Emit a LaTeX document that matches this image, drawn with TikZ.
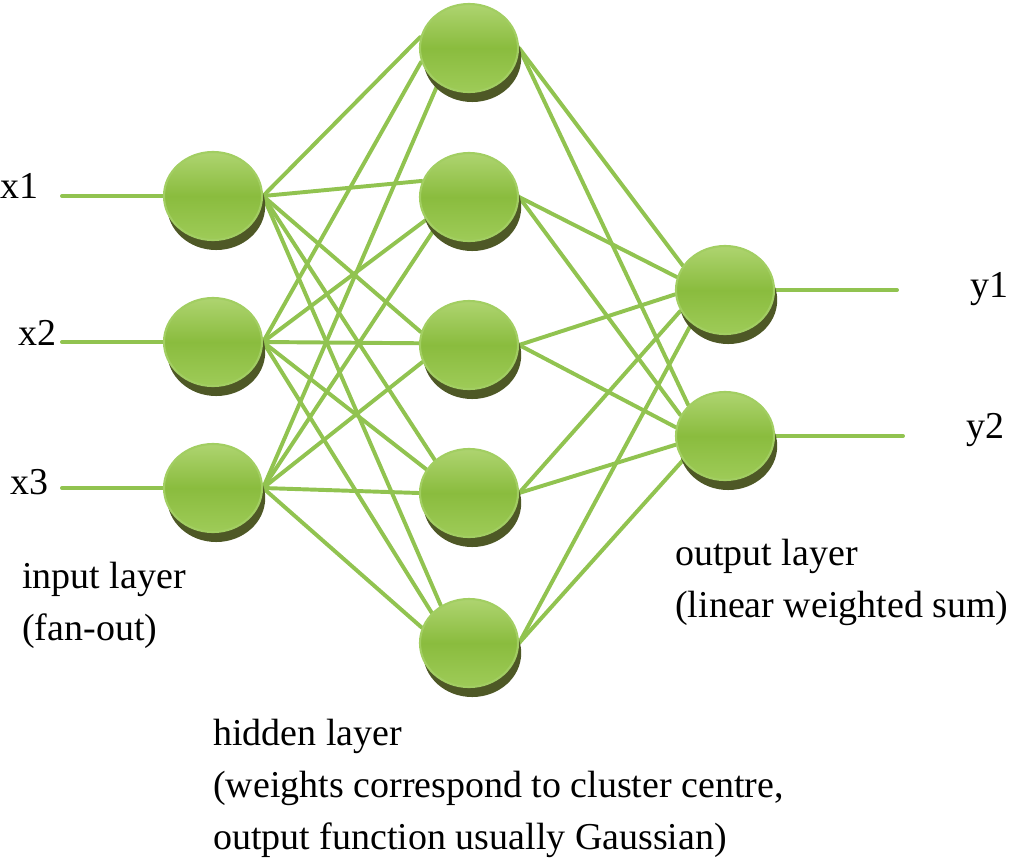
\documentclass[tikz,border=0pt]{standalone}
\usepackage{fontspec}
\setmainfont{Liberation Serif}
\usepackage{xcolor}
\usetikzlibrary{shapes.geometric,shadows,backgrounds}

\definecolor{edgegreen}{RGB}{145,195,80}
\definecolor{rimgreen}{RGB}{162,206,98}
\definecolor{topgreen}{RGB}{174,212,112}
\definecolor{midgreen}{RGB}{138,188,62}
\definecolor{lowgreen}{RGB}{158,203,88}
\definecolor{shadowgreen}{RGB}{78,88,38}

\begin{document}
\begin{tikzpicture}[x=0.025cm,y=-0.025cm]
			\tikzstyle{neuron} = [ellipse, minimum width=2.45cm, minimum height=2.2cm, inner sep=0pt, draw=rimgreen, line width=1.5pt, top color=topgreen, bottom color=lowgreen, middle color=midgreen, drop shadow={shadow xshift=0.08cm, shadow yshift=-0.25cm, fill=shadowgreen, opacity=1}]
			\tikzstyle{iotext} = [anchor=base west, inner sep=0pt, font=\fontsize{27}{37}\selectfont]
			\tikzstyle{layertext} = [anchor=north west, align=left, inner sep=0pt, font=\fontsize{27}{37}\selectfont]
			\tikzset{edge/.style = {draw=edgegreen, line width=2.8pt, line cap=round}}

			\useasboundingbox (0,0) rectangle (1021,864);

			% input layer
			\node[neuron](i1) at (213,196) {};
			\node[neuron](i2) at (213,342) {};
			\node[neuron](i3) at (213,488) {};

			% hidden layer
			\node[neuron](h1) at (469,48) {};
			\node[neuron](h2) at (469,197) {};
			\node[neuron](h3) at (469,345) {};
			\node[neuron](h4) at (469,493) {};
			\node[neuron](h5) at (469,643) {};

			% output layer
			\node[neuron](o1) at (725,290) {};
			\node[neuron](o2) at (725,436) {};

			\coordinate (x1in) at (62,196);
			\coordinate (x2in) at (62,342);
			\coordinate (x3in) at (62,488);
			\coordinate (y1out) at (897,290);
			\coordinate (y2out) at (903,436);

			\node[iotext](x1) at (0,198) {x1};
			\node[iotext](x2) at (18,345) {x2};
			\node[iotext](x3) at (10,494) {x3};
			\node[iotext](y1) at (970,297) {y1};
			\node[iotext](y2) at (966,438) {y2};

			\node[layertext](intext) at (22,562) {input layer\\(fan-out)};
			\node[layertext](outtext) at (675,539) {output layer\\(linear weighted sum)};
			\node[layertext](hidtext) at (213,719) {hidden layer\\(weights correspond to cluster centre,\\output function usually Gaussian)};

			\begin{pgfonlayer}{background}
			\draw[edge](x1in) to (i1.west);
			\draw[edge](x2in) to (i2.west);
			\draw[edge](x3in) to (i3.west);
			\draw[edge](o1.east) to (y1out);
			\draw[edge](o2.east) to (y2out);

			\draw[edge](i1.east) to (h1.167);
			\draw[edge](i2.east) to (h1.196);
			\draw[edge](i3.east) to (h1.229);
			\draw[edge](i1.east) to (h2.161);
			\draw[edge](i2.east) to (h2.208);
			\draw[edge](i3.east) to (h2.223);
			\draw[edge](i1.east) to (h3.165);
			\draw[edge](i2.east) to (h3.178);
			\draw[edge](i3.east) to (h3.200);
			\draw[edge](i1.east) to (h4.136);
			\draw[edge](i2.east) to (h4.151);
			\draw[edge](i3.east) to (h4.180);
			\draw[edge](i1.east) to (h5.127);
			\draw[edge](i2.east) to (h5.141);
			\draw[edge](i3.east) to (h5.162);

			\draw[edge](h1.east) to (o1.150);
			\draw[edge](h2.east) to (o1.165);
			\draw[edge](h3.east) to (o1.185);
			\draw[edge](h4.east) to (o1.205);
			\draw[edge](h5.east) to (o1.225);
			\draw[edge](h1.east) to (o2.140);
			\draw[edge](h2.east) to (o2.155);
			\draw[edge](h3.east) to (o2.170);
			\draw[edge](h4.east) to (o2.190);
			\draw[edge](h5.east) to (o2.210);
			\end{pgfonlayer}

			\end{tikzpicture}
\end{document}
